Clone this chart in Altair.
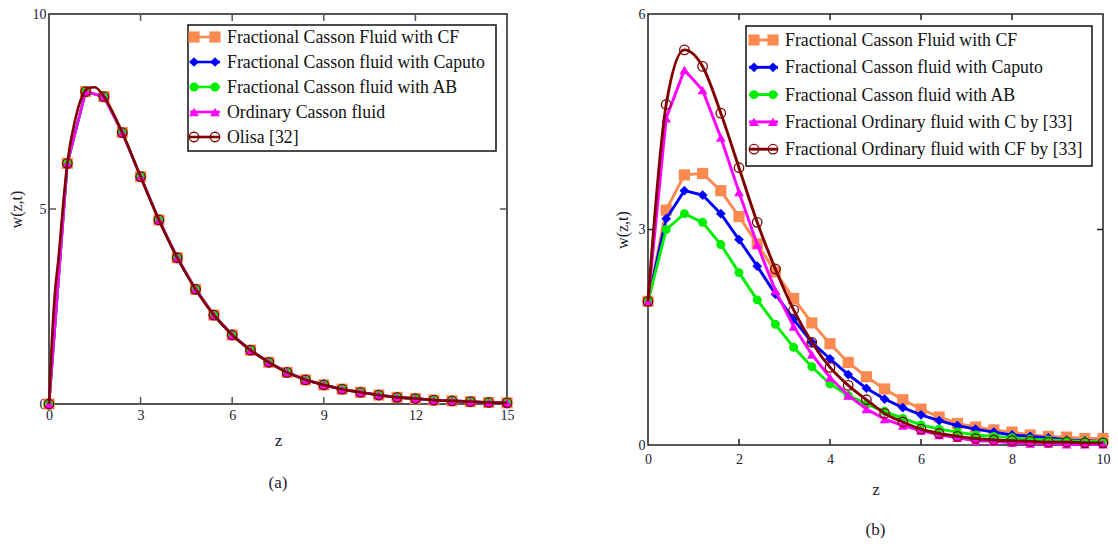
import altair as alt
import pandas as pd

FONT = "Liberation Serif"

# ---------------- data ----------------
names_a = ["Fractional Casson Fluid with CF", "Fractional Casson fluid with Caputo",
           "Fractional Casson fluid with AB", "Ordinary Casson fluid", "Olisa [32]"]
names_b = ["Fractional Casson Fluid with CF", "Fractional Casson fluid with Caputo",
           "Fractional Casson fluid with AB", "Fractional Ordinary fluid with C by [33]",
           "Fractional Ordinary fluid with CF by [33]"]
colors = ["#FA8A50", "#0000FF", "#00EE00", "#FF00FF", "#800000"]
shapes = ["square", "diamond", "circle", "triangle-up", "circle"]

# panel (a): the five curves coincide
z_a = [0, 0.6, 1.2, 1.8, 2.4, 3.0, 3.6, 4.2, 4.8, 5.4, 6.0, 6.6, 7.2, 7.8, 8.4,
       9.0, 9.6, 10.2, 10.8, 11.4, 12.0, 12.6, 13.2, 13.8, 14.4, 15.0]
w_a = [0, 6.17, 8.01, 7.88, 6.96, 5.83, 4.72, 3.75, 2.94, 2.28, 1.77, 1.38, 1.07,
       0.81, 0.62, 0.49, 0.38, 0.30, 0.23, 0.17, 0.14, 0.10, 0.08, 0.06, 0.04, 0.03]
# Olisa [32] continuous curve
z_a_line = [0, 0.1, 0.2, 0.32, 0.45, 0.6, 0.86, 1.08, 1.3, 1.5, 1.8, 2.4, 3.0, 3.6,
            4.2, 4.8, 5.4, 6.0, 6.6, 7.2, 7.8, 8.4, 9.0, 9.6, 10.2, 10.8, 11.4, 12.0,
            12.6, 13.2, 13.8, 14.4, 15.0]
w_a_line = [0, 1.7, 2.9, 3.8, 5.0, 6.17, 7.3, 7.88, 8.1, 8.12, 7.88, 6.96, 5.83, 4.72,
            3.75, 2.94, 2.28, 1.77, 1.38, 1.07, 0.81, 0.62, 0.49, 0.38, 0.30, 0.23,
            0.17, 0.14, 0.10, 0.08, 0.06, 0.04, 0.03]

# panel (b)
z_b = [0, 0.4, 0.8, 1.2, 1.6, 2.0, 2.4, 2.8, 3.2, 3.6, 4.0, 4.4, 4.8, 5.2, 5.6,
       6.0, 6.4, 6.8, 7.2, 7.6, 8.0, 8.4, 8.8, 9.2, 9.6, 10.0]
w_b_cf = [2.0, 3.27, 3.76, 3.78, 3.54, 3.18, 2.80, 2.41, 2.04, 1.70, 1.41, 1.15, 0.95,
          0.78, 0.63, 0.50, 0.39, 0.30, 0.25, 0.21, 0.18, 0.14, 0.12, 0.11, 0.09, 0.09]
w_b_caputo = [2.0, 3.15, 3.54, 3.48, 3.22, 2.86, 2.49, 2.10, 1.75, 1.43, 1.20, 0.98, 0.79,
              0.64, 0.52, 0.42, 0.34, 0.27, 0.22, 0.18, 0.14, 0.12, 0.10, 0.07, 0.06, 0.05]
w_b_ab = [2.0, 3.00, 3.22, 3.10, 2.79, 2.40, 2.02, 1.68, 1.36, 1.09, 0.85, 0.69, 0.57,
          0.47, 0.37, 0.28, 0.22, 0.18, 0.14, 0.12, 0.10, 0.08, 0.07, 0.06, 0.05, 0.05]
w_b_c33 = [2.0, 4.55, 5.22, 4.94, 4.28, 3.52, 2.79, 2.15, 1.65, 1.26, 0.94, 0.69, 0.50,
           0.36, 0.27, 0.20, 0.14, 0.10, 0.06, 0.05, 0.03, 0.02, 0.02, 0.01, 0.01, 0.01]
w_b_cf33 = [2.0, 4.74, 5.50, 5.27, 4.62, 3.86, 3.10, 2.45, 1.88, 1.43, 1.08, 0.83, 0.63,
            0.44, 0.32, 0.22, 0.16, 0.12, 0.09, 0.07, 0.06, 0.05, 0.04, 0.04, 0.03, 0.03]

xticks_a = [0, 3, 6, 9, 12, 15]
yticks_a = [0, 5, 10]
xticks_b = [0, 2, 4, 6, 8, 10]
yticks_b = [0, 3, 6]

MSIZE = {"square": 125, "diamond": 95, "circle": 80, "triangle-up": 95}


def panel(W, H, xdom, ydom, xticks, yticks, marker_z, marker_w, line_z, line_w,
          names, smooth, leg, frame_color, frame_w, tick_len, label_pad, title_pad,
          title_txt, title_off, lw):
    xenc = alt.X("z:Q", scale=alt.Scale(domain=xdom, nice=False, zero=False),
                 axis=alt.Axis(values=xticks, title="z", ticks=False, domain=False,
                               grid=False, labelFont=FONT, labelFontSize=14,
                               labelColor="#202030", labelPadding=label_pad,
                               labelFlush=False, titleFont=FONT, titleFontSize=17,
                               titleFontWeight="normal", titleColor="#202030",
                               titlePadding=title_pad, format="d"))
    yenc = alt.Y("w:Q", scale=alt.Scale(domain=ydom, nice=False, zero=False),
                 axis=alt.Axis(values=yticks, title="w(z,t)", ticks=False, domain=False,
                               grid=False, labelFont=FONT, labelFontSize=14,
                               labelColor="#202030", labelPadding=3, labelFlush=False,
                               titleFont=FONT, titleFontSize=16, titleFontWeight="normal",
                               titleColor="#202030", titlePadding=8, format="d"))
    layers = []
    # frame
    layers.append(alt.Chart(pd.DataFrame({"a": [0]})).mark_rect(
        fill="white", stroke=frame_color, strokeWidth=frame_w).encode(
        x=alt.value(0), x2=alt.value(W), y=alt.value(0), y2=alt.value(H)))
    # inward ticks
    xt = pd.DataFrame({"z": xticks[1:-1]})
    yt = pd.DataFrame({"w": yticks[1:-1]})
    tk = dict(color=frame_color, strokeWidth=1.5)
    layers.append(alt.Chart(xt).mark_rule(**tk).encode(x=xenc, y=alt.value(H), y2=alt.value(H - tick_len)))
    layers.append(alt.Chart(xt).mark_rule(**tk).encode(x=xenc, y=alt.value(0), y2=alt.value(tick_len)))
    layers.append(alt.Chart(yt).mark_rule(**tk).encode(y=yenc, x=alt.value(0), x2=alt.value(tick_len)))
    layers.append(alt.Chart(yt).mark_rule(**tk).encode(y=yenc, x=alt.value(W), x2=alt.value(W - tick_len)))

    for i, name in enumerate(names):
        df = pd.DataFrame({"z": marker_z, "w": marker_w[i]})
        if i == 4:
            ldf = pd.DataFrame({"z": line_z, "w": line_w})
            line = alt.Chart(ldf).mark_line(color=colors[i], strokeWidth=lw,
                                            interpolate="monotone" if smooth else "linear")
        else:
            line = alt.Chart(df).mark_line(color=colors[i], strokeWidth=lw)
        layers.append(line.encode(x=xenc, y=yenc))
        if i == 4:
            pts = alt.Chart(df).mark_point(shape="circle", filled=False, color=colors[i],
                                           size=90, strokeWidth=1.3, opacity=1)
        else:
            pts = alt.Chart(df).mark_point(shape=shapes[i], filled=True, color=colors[i],
                                           size=MSIZE[shapes[i]], opacity=1)
        layers.append(pts.encode(x=xenc, y=yenc))

    # legend
    bx0, bx1, by0, by1, row0, step, lx0, lx1, mx0, mx1, tx = leg
    layers.append(alt.Chart(pd.DataFrame({"a": [0]})).mark_rect(
        fill="white", stroke="#111111", strokeWidth=1.5).encode(
        x=alt.value(bx0), x2=alt.value(bx1), y=alt.value(by0), y2=alt.value(by1)))
    for i, name in enumerate(names):
        ry = row0 + step * i
        one = pd.DataFrame({"label": [name]})
        layers.append(alt.Chart(one).mark_rule(color=colors[i], strokeWidth=lw).encode(
            x=alt.value(lx0), x2=alt.value(lx1), y=alt.value(ry)))
        for mx in (mx0, mx1):
            if i == 4:
                p = alt.Chart(one).mark_point(shape="circle", filled=False, color=colors[i],
                                              size=90, strokeWidth=1.3, opacity=1)
            else:
                p = alt.Chart(one).mark_point(shape=shapes[i], filled=True, color=colors[i],
                                              size=MSIZE[shapes[i]], opacity=1)
            layers.append(p.encode(x=alt.value(mx), y=alt.value(ry)))
        layers.append(alt.Chart(one).mark_text(align="left", baseline="middle", font=FONT,
                                               fontSize=17.8, color="#111111").encode(
            x=alt.value(tx), y=alt.value(ry + 1), text="label:N"))

    return alt.layer(*layers).properties(
        width=W, height=H,
        title=alt.TitleParams(title_txt, orient="bottom", font=FONT, fontSize=17,
                              fontWeight="normal", color="#202030", offset=title_off))


left = panel(458, 390, [0, 15], [0, 10], xticks_a, yticks_a, z_a,
             [w_a, w_a, w_a, w_a, w_a], z_a_line, w_a_line, names_a, True,
             (139, 447, 11, 137, 23, 25, 141, 171, 145, 166, 178),
             "#555555", 2, 7, 4, 10, "(a)", 27, 2.6)
right = panel(455, 431, [0, 10], [0, 6], xticks_b, yticks_b, z_b,
              [w_b_cf, w_b_caputo, w_b_ab, w_b_c33, w_b_cf33], z_b, w_b_cf33,
              names_b, True,
              (98, 444, 12, 152, 26, 27.3, 101, 130, 106, 125, 137),
              "#222222", 1.5, 6, 7, 15, "(b)", 25, 2.9)

chart = alt.hconcat(left, right, spacing=99).properties(
    padding={"left": 8, "top": 7, "right": 0, "bottom": 0}
).configure_view(stroke=None)

chart.save("out.html", embed_options={"renderer": "svg", "actions": False})
